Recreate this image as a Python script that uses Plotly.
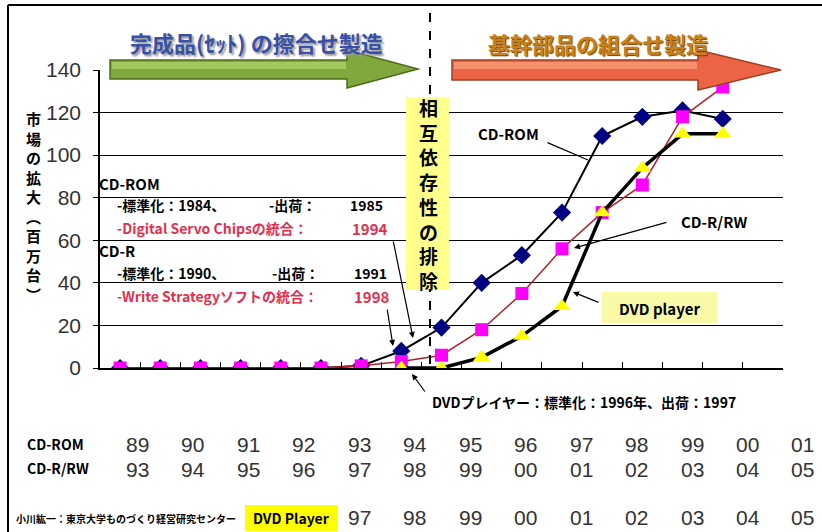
import plotly.graph_objects as go

# ---- data -------------------------------------------------------------
years = ["89", "90", "91", "92", "93", "94", "95", "96", "97", "98",
         "99", "00", "01", "02", "03", "04", "05"]
cd_rom = [0, 0, 0, 0, 0, 0, 1, 8, 19, 40, 53, 73, 109, 118, 121, 117]
cd_rrw = [0, 0, 0, 0, 0, 0, 1, 3, 6, 18, 35, 56, 73, 86, 118, 132]
dvd_player = [None, None, None, None, None, None, None,
              0, 0, 5, 15, 29, 73, 94, 110, 110]
y_ticks = [0, 20, 40, 60, 80, 100, 120, 140]

row_cdrom = ["89", "90", "91", "92", "93", "94", "95", "96", "97", "98", "99", "00", "01"]
row_cdrrw = ["93", "94", "95", "96", "97", "98", "99", "00", "01", "02", "03", "04", "05"]
row_dvd = ["97", "98", "99", "00", "01", "02", "03", "04", "05"]

# ---- page geometry (pixels) ----------------------------------------------
W, H = 822, 532
L, R, T, B = 100, 783, 70, 368


def px(x):
    return (x - L) / (R - L)


def py(y):
    return (B - y) / (B - T)


def poly(points):
    return "M " + " L ".join(f"{px(x):.5f},{py(y):.5f}" for x, y in points) + " Z"


JP = "Noto Sans CJK JP, Noto Sans, sans-serif"
NUM = "Liberation Sans, Arial, sans-serif"
NARROW = "Liberation Sans Narrow, Liberation Sans, Arial, sans-serif"

fig = go.Figure()

xs = years[:len(cd_rom)]
fig.add_trace(go.Scatter(
    x=xs, y=cd_rom, mode="lines+markers", name="CD-ROM",
    line=dict(color="#000000", width=2),
    marker=dict(symbol="diamond", size=14, color="#000080"),
))
fig.add_trace(go.Scatter(
    x=xs, y=cd_rrw, mode="lines+markers", name="CD-R/RW",
    line=dict(color="#b3202a", width=1.5),
    marker=dict(symbol="square", size=13, color="#ff00ff"),
))
fig.add_trace(go.Scatter(
    x=xs, y=dvd_player, mode="lines+markers", name="DVD player",
    line=dict(color="#000000", width=3.5),
    marker=dict(symbol="triangle-up", size=15, color="#ffff00"),
))

shapes = []
annotations = []


def text_at(x, y, text, family=JP, size=14, color="black", anchor="left", bold=True, **extra):
    font = dict(family=family, size=size, color=color)
    font.update(extra)
    annotations.append(dict(xref="paper", yref="paper", x=px(x), y=py(y),
                            text=f"<b>{text}</b>" if bold else text,
                            showarrow=False, xanchor=anchor, yanchor="middle",
                            font=font))


# outer frame
shapes.append(dict(type="line", xref="paper", yref="paper",
                   x0=px(8), y0=py(5), x1=px(822), y1=py(5),
                   line=dict(color="black", width=2), layer="above"))
shapes.append(dict(type="line", xref="paper", yref="paper",
                   x0=px(8), y0=py(5), x1=px(8), y1=py(540),
                   line=dict(color="black", width=2), layer="above"))

# phase divider
shapes.append(dict(type="line", xref="paper", yref="paper",
                   x0=px(430), y0=py(13), x1=px(430), y1=py(372),
                   line=dict(color="black", width=2, dash="dash"), layer="above"))

# big phase arrows
shapes.append(dict(type="path", xref="paper", yref="paper", layer="above",
                   path=poly([(110, 60), (347, 60), (347, 50), (418, 69),
                              (347, 88), (347, 79), (110, 79)]),
                   fillcolor="#80a83c", line=dict(color="#4e6b1c", width=1.5)))
shapes.append(dict(type="path", xref="paper", yref="paper", layer="above",
                   path=poly([(112, 62), (346, 62), (346, 69), (112, 69)]),
                   fillcolor="#a3c860", line=dict(width=0)))
shapes.append(dict(type="path", xref="paper", yref="paper", layer="above",
                   path=poly([(452, 60), (698, 60), (698, 50), (781, 70),
                              (698, 90), (698, 80), (452, 80)]),
                   fillcolor="#ec6443", line=dict(color="#9c3f22", width=1.5)))
shapes.append(dict(type="path", xref="paper", yref="paper", layer="above",
                   path=poly([(454, 62), (697, 62), (697, 69), (454, 69)]),
                   fillcolor="#f7906c", line=dict(width=0)))

text_at(256, 42, "完成品(ｾｯﾄ) の擦合せ製造", size=22, color="#3950a6",
        anchor="center", shadow="2px 2px 2px #9a9a9a")
text_at(598, 43, "基幹部品の組合せ製造", size=22, color="#c8801a",
        anchor="center", shadow="1px 1px 1px #6b3f00")

# vertical note box
shapes.append(dict(type="rect", xref="paper", yref="paper", layer="above",
                   x0=px(406), x1=px(449), y0=py(97), y1=py(290),
                   fillcolor="#ffff8c", line=dict(width=0)))
text_at(428, 194, "<br>".join("相互依存性の排除"), size=19, anchor="center")

# y-axis title (vertical)
text_at(33, 207, "<br>".join("市場の拡大︵百万台︶"), size=15, anchor="center")

# left text block
RED = "#e2304f"
text_at(97, 183, "CD-ROM", size=15)
text_at(115, 205, "-標準化：1984、")
text_at(267, 205, "-出荷：")
text_at(348, 205, "1985")
text_at(115, 228, "-Digital Servo Chipsの統合：", color=RED)
text_at(350, 228, "1994", color=RED, size=15)
text_at(97, 250, "CD-R", size=15)
text_at(115, 273, "-標準化：1990、")
text_at(270, 273, "-出荷：")
text_at(352, 273, "1991")
text_at(115, 296, "-Write Strategyソフトの統合：", color=RED)
text_at(352, 296, "1998", color=RED, size=15)


def pointer(sx, sy, tx, ty, head=2, width=1.2):
    annotations.append(dict(xref="paper", yref="paper", x=px(tx), y=py(ty),
                            ax=sx - tx, ay=sy - ty, text="", showarrow=True,
                            arrowhead=head, arrowsize=1, arrowwidth=width,
                            arrowcolor="black", standoff=0))


pointer(393, 240, 413, 338)
pointer(387, 308, 393, 346)

# series labels
text_at(508, 133, "CD-ROM", size=15, anchor="center")
pointer(546, 142, 588, 160, head=0)
text_at(714, 222, "CD-R/RW", size=15, anchor="center")
pointer(668, 222, 574, 248)
shapes.append(dict(type="rect", xref="paper", yref="paper", layer="above",
                   x0=px(602), x1=px(717), y0=py(292), y1=py(323),
                   fillcolor="#f9f9a8", line=dict(width=0)))
text_at(659, 308, "DVD player", size=15, anchor="center")
pointer(600, 303, 573, 292)
text_at(430, 402, "DVDプレイヤー：標準化：1996年、出荷：1997", size=14)
pointer(426, 393, 412, 374)

# year table under the chart
col0, step = 137, 55.5
text_at(25, 444, "CD-ROM", size=14)
text_at(25, 468, "CD-R/RW", size=14)
for i, yv in enumerate(row_cdrom):
    text_at(col0 + step * i, 444, yv, family=NUM, size=21, color="#333333",
            anchor="center", bold=False)
for i, yv in enumerate(row_cdrrw):
    text_at(col0 + step * i, 469, yv, family=NUM, size=21, color="#333333",
            anchor="center", bold=False)
for i, yv in enumerate(row_dvd):
    text_at(col0 + step * (i + 4), 517, yv, family=NUM, size=21, color="#333333",
            anchor="center", bold=False)

text_at(14, 518, "小川紘一：東京大学ものづくり経営研究センター", size=10)
shapes.append(dict(type="rect", xref="paper", yref="paper", layer="above",
                   x0=px(245), x1=px(338), y0=py(505), y1=py(531),
                   fillcolor="#ffff00", line=dict(width=0)))
text_at(291, 518, "DVD Player", size=14, anchor="center")

fig.update_layout(
    width=W, height=H,
    margin=dict(l=L, r=W - R, t=T, b=H - B),
    paper_bgcolor="white", plot_bgcolor="white",
    showlegend=False,
    shapes=shapes, annotations=annotations,
    xaxis=dict(type="category", categoryorder="array", categoryarray=years,
               range=[-0.5, len(years) - 0.5], tickson="boundaries",
               ticks="inside", ticklen=6, tickcolor="black", tickwidth=1,
               showticklabels=False, showgrid=False, zeroline=False,
               showline=True, linecolor="black", linewidth=1.5),
    yaxis=dict(range=[0, 140], tickvals=y_ticks, ticks="outside", ticklen=5,
               tickcolor="black", showline=True, linecolor="black", linewidth=1.5,
               showgrid=True, gridcolor="black", gridwidth=1.3, zeroline=False,
               ticklabelstandoff=8,
               tickfont=dict(family=NARROW, size=21, color="#333333")),
)

fig.write_html("out.html")
